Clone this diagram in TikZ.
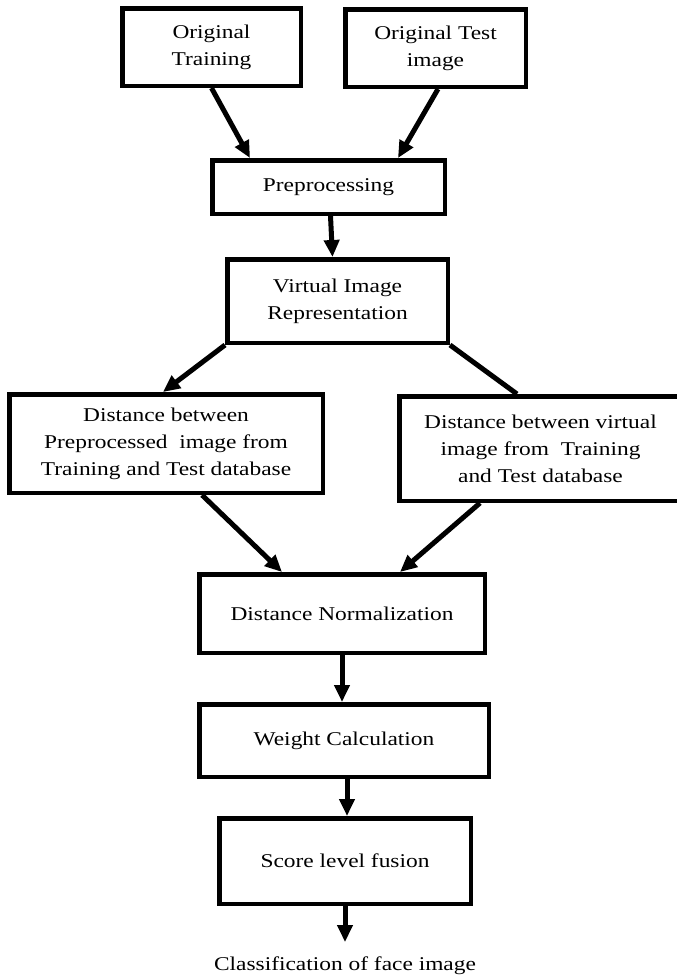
\documentclass[tikz,border=0pt]{standalone}
\usepackage{fontspec}
\setmainfont{Liberation Serif}[FakeStretch=1.2]
\usepackage{tikz}
\usetikzlibrary{arrows.meta}

\begin{document}
\begin{tikzpicture}[x=1pt, y=-1pt, line width=4.5pt,
		font=\fontsize{19.5}{27}\selectfont,
		blk/.style={draw, fill=white, align=center, inner sep=0pt},
		arr/.style={-{Triangle[length=17pt,width=15pt]}, line width=5pt}]
		\useasboundingbox (0,0) rectangle (677,980);
		\node[blk, minimum width=178.5pt, minimum height=77.5pt] (train) at (211.5,47) {Original\\Training};
		\node[blk, minimum width=180.5pt, minimum height=77.5pt] (test) at (435.5,48) {Original Test\\image};
		\node[blk, minimum width=232.5pt, minimum height=53.5pt] (prep) at (328.5,187) {Preprocessing};
		\node[blk, minimum width=220.5pt, minimum height=83.5pt] (vir) at (337.5,301) {Virtual Image\\Representation};
		\node[blk, minimum width=313.5pt, minimum height=98.5pt] (dpre) at (166,443.5)
		{Distance between\\Preprocessed\ \ image from\\Training and Test database};
		\node[blk, minimum width=282.5pt, minimum height=104.5pt] (dvir) at (540.5,448.5)
		{Distance between virtual\\image from\ \ Training\\and Test database};
		\node[blk, minimum width=285.5pt, minimum height=78.5pt] (dn) at (342,613.5) {Distance Normalization};
		\node[blk, minimum width=289.5pt, minimum height=72.5pt] (wc) at (344,740.5) {Weight Calculation};
		\node[blk, minimum width=251.5pt, minimum height=85.5pt] (slf) at (345,861) {Score level fusion};
		\node[anchor=base, inner xsep=0pt, inner ysep=12pt] (out) at (345,970) {Classification of face image};
		\draw[arr] (train.south) -- ([xshift=-78.5pt]prep.north);
		\draw[arr] ([xshift=2.5pt]test.south) -- ([xshift=69.5pt]prep.north);
		\draw[arr] ([xshift=2pt]prep.south) -- ([xshift=-5pt]vir.north);
		\draw[arr] (vir.south west) -- ([xshift=-3pt]dpre.north);
		\draw[line width=5pt] (vir.south east) -- ([xshift=-23.5pt]dvir.north);
		\draw[arr] ([xshift=36pt]dpre.south) -- ([xshift=-60pt]dn.north);
		\draw[arr] ([xshift=-60.5pt]dvir.south) -- ([xshift=58pt]dn.north);
		\draw[arr] (dn.south) -- (dn.south |- wc.north);
		\draw[arr] ([xshift=3pt]wc.south) -- ([xshift=2pt]slf.north);
		\draw[arr] (slf.south) -- (out.north);
	\end{tikzpicture}
\end{document}
